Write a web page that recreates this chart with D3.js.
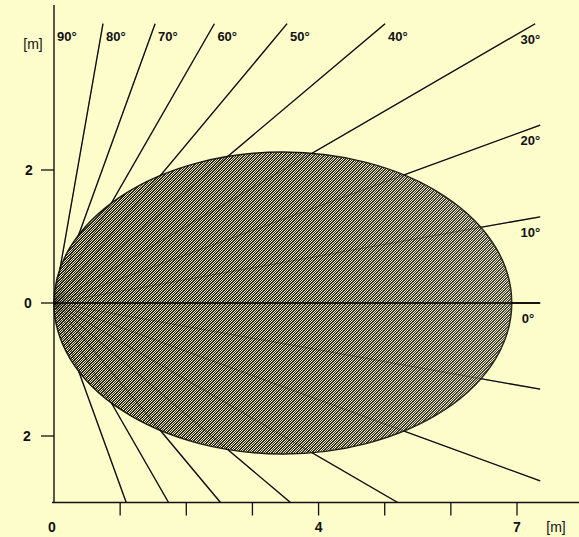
<!DOCTYPE html>
<html>
<head>
<meta charset="utf-8">
<script src="https://cdn.jsdelivr.net/npm/d3@7"></script>
<style>
  body { margin: 0; background: #fdfccb; }
  text { font-family: "Liberation Sans", Arial, sans-serif; font-weight: bold; fill: #111; }
</style>
</head>
<body>
<div class="res"></div>
<script>
/**
 * DATA
 */
const upperAngles = [0, 10, 20, 30, 40, 50, 60, 70, 80, 90];
const lowerAngles = [-10, -20, -30, -40, -50, -60, -70];
const xTicks = [1, 2, 3, 4, 5, 6, 7];
const xTickLabels = [0, 4, 7];
const yTicks = [2, 0, -2];
const yTickLabels = ['2', '0', '2'];
// detection zone (ellipse) in metres
const zoneCenter = [3.46, 0];
const zoneRadius = [3.46, 2.27];
// extent of the drawn rays in metres
const rayMaxX = 7.35;
const rayMaxY = 4.2;
const rayMinY = -3;

const W = 579, H = 537;

/**
 * SCALES
 */
const x = d3.scaleLinear().domain([0, 7]).range([54, 517]);
const y = d3.scaleLinear().domain([-2, 2]).range([436, 170]);

const svg = d3.select('div.res')
    .append('svg')
    .attr('width', W)
    .attr('height', H)
    .style('background', '#fdfccb');

/**
 * DITHER PATTERN FOR THE ZONE
 */
const defs = svg.append('defs');
const pat = defs.append('pattern')
    .attr('id', 'dither')
    .attr('width', 5)
    .attr('height', 5)
    .attr('patternUnits', 'userSpaceOnUse');
pat.append('rect').attr('width', 5).attr('height', 5).attr('fill', '#25251d');
d3.range(25).forEach(k => {
    const i = k % 5, j = Math.floor(k / 5);
    if ((i + j) % 5 === 0 || (i + j) % 5 === 2) {
        pat.append('rect').attr('x', i).attr('y', j)
            .attr('width', 1).attr('height', 1).attr('fill', '#ecE9b8');
    }
});

// right part of the zone reads a little lighter
const grad = defs.append('linearGradient').attr('id', 'fade')
    .attr('x1', '0').attr('x2', '1').attr('y1', '0').attr('y2', '0');
grad.append('stop').attr('offset', '0').attr('stop-color', '#fff').attr('stop-opacity', 0);
grad.append('stop').attr('offset', '0.55').attr('stop-color', '#fff').attr('stop-opacity', 0.04);
grad.append('stop').attr('offset', '1').attr('stop-color', '#fff').attr('stop-opacity', 0.14);

// end point of a ray, clipped to the box
function rayEnd(a) {
    const r = a * Math.PI / 180;
    const c = Math.cos(r), s = Math.sin(r);
    let t = c > 1e-6 ? rayMaxX / c : Infinity;
    if (s > 1e-6) t = Math.min(t, rayMaxY / s);
    if (s < -1e-6) t = Math.min(t, rayMinY / s);
    return [t * c, t * s];
}

const allAngles = upperAngles.filter(a => a < 90).concat(lowerAngles);

/**
 * RAYS (under the zone)
 */
const rays = svg.append('g').attr('stroke', '#111').attr('stroke-width', 1.3);
rays.selectAll('line')
    .data(allAngles)
    .enter().append('line')
    .attr('x1', x(0)).attr('y1', y(0))
    .attr('x2', d => x(rayEnd(d)[0]))
    .attr('y2', d => y(rayEnd(d)[1]));

/**
 * ZONE
 */
svg.append('ellipse')
    .attr('cx', x(zoneCenter[0]))
    .attr('cy', y(zoneCenter[1]))
    .attr('rx', x(zoneRadius[0]) - x(0))
    .attr('ry', y(0) - y(zoneRadius[1]))
    .attr('fill', 'url(#dither)')
    .attr('stroke', '#1a1a14')
    .attr('stroke-width', 1.5);
svg.append('ellipse')
    .attr('cx', x(zoneCenter[0]))
    .attr('cy', y(zoneCenter[1]))
    .attr('rx', x(zoneRadius[0]) - x(0))
    .attr('ry', y(0) - y(zoneRadius[1]))
    .attr('fill', 'url(#fade)');

// rays seen faintly through the zone
svg.append('g').attr('stroke', '#000').attr('stroke-width', 1.2)
    .attr('stroke-opacity', 0.3)
    .selectAll('line')
    .data(allAngles.filter(a => a !== 0))
    .enter().append('line')
    .attr('x1', x(0)).attr('y1', y(0))
    .attr('x2', d => x(rayEnd(d)[0]))
    .attr('y2', d => y(rayEnd(d)[1]));

// 0 degree line
svg.append('line')
    .attr('x1', x(0)).attr('y1', y(0))
    .attr('x2', x(rayEnd(0)[0])).attr('y2', y(0))
    .attr('stroke', '#000').attr('stroke-width', 1.6);

/**
 * RAY LABELS
 */
svg.append('g').selectAll('text')
    .data(upperAngles)
    .enter().append('text')
    .style('font-size', '13px')
    .attr('text-anchor', d => d >= 40 ? 'start' : 'end')
    .attr('x', d => d >= 40 ? x(rayEnd(d)[0]) + 3 : x(rayMaxX) - (d === 0 ? 6 : 0))
    .attr('y', d => d >= 40 ? y(rayMaxY) + 17 : y(rayEnd(d)[1]) + 20)
    .text(d => d + '°');

/**
 * AXES
 */
// y axis
svg.append('line')
    .attr('x1', x(0)).attr('x2', x(0))
    .attr('y1', 5).attr('y2', y(rayMinY))
    .attr('stroke', '#111').attr('stroke-width', 1.4);
svg.append('g').selectAll('line')
    .data(yTicks)
    .enter().append('line')
    .attr('x1', x(0) - 13).attr('x2', x(0))
    .attr('y1', d => y(d)).attr('y2', d => y(d))
    .attr('stroke', '#111').attr('stroke-width', 1.3);
svg.append('g').selectAll('text')
    .data(yTicks)
    .enter().append('text')
    .style('font-size', '14px')
    .attr('text-anchor', 'middle')
    .attr('x', (d, i) => 29 - i)
    .attr('y', d => y(d) + 5)
    .text((d, i) => yTickLabels[i]);
svg.append('text')
    .style('font-size', '14px').style('font-weight', 'normal')
    .attr('text-anchor', 'middle')
    .attr('x', 33).attr('y', 49)
    .text('[m]');

// x axis
svg.append('line')
    .attr('x1', x(0) - 2).attr('x2', W)
    .attr('y1', y(rayMinY)).attr('y2', y(rayMinY))
    .attr('stroke', '#111').attr('stroke-width', 1.4);
svg.append('g').selectAll('line')
    .data(xTicks)
    .enter().append('line')
    .attr('x1', d => x(d)).attr('x2', d => x(d))
    .attr('y1', y(rayMinY)).attr('y2', y(rayMinY) + 13)
    .attr('stroke', '#111').attr('stroke-width', 1.3);
svg.append('g').selectAll('text')
    .data(xTickLabels)
    .enter().append('text')
    .style('font-size', '14px')
    .attr('text-anchor', 'middle')
    .attr('x', d => x(d) - (d === 0 ? 2 : 0))
    .attr('y', 532)
    .text(d => d);
svg.append('text')
    .style('font-size', '14px').style('font-weight', 'normal')
    .attr('text-anchor', 'middle')
    .attr('x', 556).attr('y', 532)
    .text('[m]');
</script>
</body>
</html>
